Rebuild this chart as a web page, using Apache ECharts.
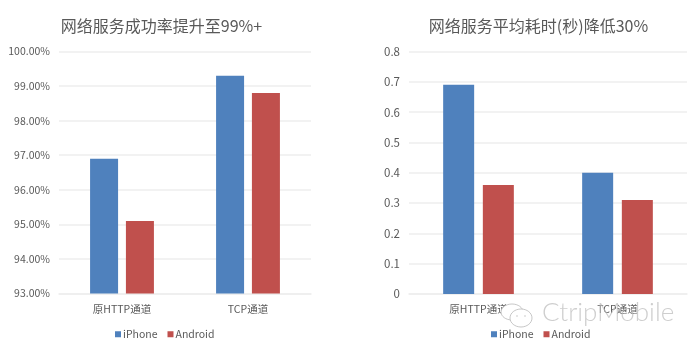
<!DOCTYPE html>
<html><head><meta charset="utf-8">
<style>html,body{margin:0;padding:0;background:#fff}#c{width:696px;height:351px;filter:blur(0.4px)}</style>
<script src="https://cdn.jsdelivr.net/npm/echarts@6/dist/echarts.min.js"></script>
</head><body><div id="c"></div>
<script>
const categoriesLeft = ['原HTTP通道', 'TCP通道'];
const categoriesRight = ['原HTTP通道', 'TCP通道'];
const rateIPhone = [96.9, 99.3];
const rateAndroid = [95.1, 98.8];
const timeIPhone = [0.69, 0.40];
const timeAndroid = [0.36, 0.31];
const titleLeft = '网络服务成功率提升至99%+';
const titleRight = '网络服务平均耗时(秒)降低30%';
const seriesNames = ['iPhone', 'Android'];
const BLUE = '#4f81bd', RED = '#c0504d', GRID = '#eeeeee', TXT = '#595959';
const FONT = '"Noto Sans CJK SC","Open Sans",sans-serif';

const chart = echarts.init(document.getElementById('c'), null, {renderer:'canvas'});
const xAxis = (data, gridIndex) => ({type:'category', gridIndex, data,
  axisLine:{lineStyle:{color:GRID,width:1.5}}, axisTick:{show:false},
  axisLabel:{color:TXT,fontSize:10.5,fontFamily:FONT,margin:10}});
const yAxis = (min,max,interval,gridIndex,fmt,size) => ({type:'value',gridIndex,min,max,interval,
  axisLine:{show:false},axisTick:{show:false},
  splitLine:{lineStyle:{color:GRID,width:1.5}},
  axisLabel:{color:TXT,fontSize:size,fontFamily:FONT,margin:9,formatter:fmt}});
const bar = (name,data,color,i,width,gap) => ({type:'bar',name,data,xAxisIndex:i,yAxisIndex:i,
  barWidth:width,barGap:gap,itemStyle:{color},silent:true,animation:false});
const legend = (left) => ({left,top:324,itemWidth:6,itemHeight:6,itemGap:10,icon:'rect',
  data:seriesNames,selectedMode:false,
  textStyle:{color:TXT,fontSize:10.5,fontFamily:FONT,padding:[0,0,0,-3]}});

const mark = 'rgba(185,185,185,0.8)';
chart.setOption({
  backgroundColor:'#fff',
  animation:false,
  title:[
    {text:titleLeft,left:156.5,top:13,textAlign:'center',textStyle:{color:TXT,fontSize:16,fontWeight:'normal',fontFamily:FONT}},
    {text:titleRight,left:533.5,top:13,textAlign:'center',textStyle:{color:TXT,fontSize:16,fontWeight:'normal',fontFamily:FONT}}
  ],
  legend:[legend(110),legend(486)],
  grid:[
    {left:59,width:252,top:51.5,height:242},
    {left:409,width:278,top:51.5,height:242.5}
  ],
  xAxis:[xAxis(categoriesLeft,0),xAxis(categoriesRight,1)],
  yAxis:[yAxis(93,100,1,0,v=>v.toFixed(2)+'%',10.5),yAxis(0,0.8,0.1,1,undefined,11.5)],
  series:[
    bar(seriesNames[0],rateIPhone,BLUE,0,28,'28%'),
    bar(seriesNames[1],rateAndroid,RED,0,28,'28%'),
    bar(seriesNames[0],timeIPhone,BLUE,1,31,'28%'),
    bar(seriesNames[1],timeAndroid,RED,1,31,'28%')
  ],
  graphic:[
    {type:'text',left:542,top:300,silent:true,z:50,style:{text:'CtripMobile',fill:'rgba(190,190,190,0.75)',font:'300 26px Lato, "Open Sans", sans-serif'}},
    {type:'ellipse',silent:true,z:50,shape:{cx:512,cy:312,rx:11,ry:8},style:{fill:'#fff',stroke:mark,lineWidth:1}},
    {type:'ellipse',silent:true,z:51,shape:{cx:521,cy:318,rx:11,ry:9},style:{fill:'#fff',stroke:mark,lineWidth:1}},
    {type:'circle',silent:true,z:52,shape:{cx:517,cy:316,r:0.8},style:{fill:mark}},
    {type:'circle',silent:true,z:52,shape:{cx:525,cy:316,r:0.8},style:{fill:mark}}
  ]
});
</script></body></html>
